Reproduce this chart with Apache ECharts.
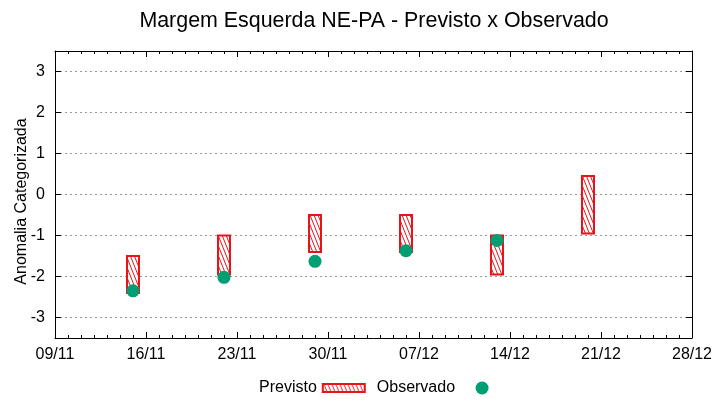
<!DOCTYPE html>
<html>
<head>
<meta charset="utf-8">
<script src="https://cdn.jsdelivr.net/npm/echarts@6/dist/echarts.min.js"></script>
<style>html,body{margin:0;padding:0;background:#fff;}#c{width:720px;height:400px;}</style>
</head>
<body>
<div id="c"></div>
<script>
const startDate = '2023-11-09';
const endDate = '2023-12-28';
const forecastDates = ['2023-11-15','2023-11-22','2023-11-29','2023-12-06','2023-12-13','2023-12-20'];
const forecastLow  = [-2.4, -1.95, -1.4, -1.4, -1.95, -0.95];
const forecastHigh = [-1.5, -1.0, -0.5, -0.5, -1.0, 0.45];
const observedDates = ['2023-11-15','2023-11-22','2023-11-29','2023-12-06','2023-12-13'];
const observedValues = [-2.35, -2.02, -1.63, -1.37, -1.12];
const yTicks = [-3, -2, -1, 0, 1, 2, 3];

const DAY = 86400000;
const t0 = Date.parse(startDate);
const dayOf = s => Math.round((Date.parse(s) - t0) / DAY);
const xMax = dayOf(endDate);
const fmtDay = v => {
  const d = new Date(t0 + v * DAY);
  const dd = String(d.getUTCDate()).padStart(2, '0');
  const mm = String(d.getUTCMonth() + 1).padStart(2, '0');
  return dd + '/' + mm;
};

const RED = '#e8141a';
const GREEN = '#009e73';
const FONT = 'Liberation Sans';

const pc = document.createElement('canvas');
pc.width = 4; pc.height = 10;
const g = pc.getContext('2d');
g.fillStyle = '#fff'; g.fillRect(0, 0, 4, 10);
g.strokeStyle = RED; g.lineWidth = 1;
for (const dx of [-4, 0, 4]) {
  g.beginPath(); g.moveTo(dx - 0.8, -2); g.lineTo(dx + 4.8, 12); g.stroke();
}
const hatch = { image: pc, repeat: 'repeat' };

const barData = forecastDates.map((d, i) => [dayOf(d), forecastLow[i], forecastHigh[i]]);
const obsData = observedDates.map((d, i) => [dayOf(d), observedValues[i]]);

const chart = echarts.init(document.getElementById('c'), null, { renderer: 'canvas' });
const yMin = -3.5, yMax = 3.5;

const baseX = {
  type: 'value', min: 0, max: xMax, interval: 7,
  axisLine: { show: true, onZero: false, lineStyle: { color: '#000', width: 1 } },
  axisTick: { show: true, inside: true, length: 6, lineStyle: { color: '#000' } },
  minorTick: { show: true, splitNumber: 7, length: 3, lineStyle: { color: '#000' } },
  splitLine: { show: false }
};
const baseY = {
  type: 'value', min: yMin, max: yMax, splitNumber: 7,
  axisLine: { show: true, onZero: false, lineStyle: { color: '#000', width: 1 } },
  axisTick: { show: true, inside: true, length: 6, lineStyle: { color: '#000' } }
};

chart.setOption({
  animation: false,
  backgroundColor: '#fff',
  title: {
    text: 'Margem Esquerda NE-PA - Previsto x Observado',
    left: 369, top: 6, textAlign: 'center',
    textStyle: { fontFamily: FONT, fontSize: 21.4, fontWeight: 'normal', color: '#000' }
  },
  grid: { left: 55, right: 28, top: 51, bottom: 62, show: false, containLabel: false, outerBoundsMode: 'none' },
  legend: {
    left: 254, top: 375, align: 'right', itemGap: 11, itemWidth: 42, itemHeight: 13, itemSymbolKeepAspect: true,
    textStyle: { fontFamily: FONT, fontSize: 16, color: '#000', padding: [0, 1, 0, 0] },
    data: [
      { name: 'Previsto', icon: 'path://M0,0H42V8H0Z', itemStyle: { color: hatch, borderColor: RED, borderWidth: 2 } },
      { name: 'Observado', icon: 'circle', itemStyle: { color: GREEN } }
    ]
  },
  xAxis: [
    Object.assign({}, baseX, {
      position: 'bottom',
      axisLabel: { show: true, formatter: fmtDay, margin: 9, fontFamily: FONT, fontSize: 16, color: '#000' }
    }),
    Object.assign({}, baseX, { position: 'top', axisLabel: { show: false } })
  ],
  yAxis: [
    Object.assign({}, baseY, {
      position: 'left',
      name: 'Anomalia Categorizada', nameLocation: 'middle', nameGap: 25, nameRotate: 90, nameMoveOverlap: false,
      nameTextStyle: { fontFamily: FONT, fontSize: 16, color: '#000', padding: [0, 14, 0, 0] },
      axisLabel: {
        show: true, margin: 10, fontFamily: FONT, fontSize: 16, color: '#000',
        showMinLabel: false, showMaxLabel: false,
        formatter: v => (yTicks.indexOf(v) >= 0 ? String(v) : '')
      },
      splitLine: { show: true, lineStyle: { color: '#9a9a9a', type: [2, 3], width: 1 } }
    }),
    Object.assign({}, baseY, { position: 'right', axisLabel: { show: false }, splitLine: { show: false } })
  ],
  series: [
    {
      name: 'Previsto', type: 'custom', xAxisIndex: 0, yAxisIndex: 0,
      itemStyle: { color: hatch, borderColor: RED, borderWidth: 2 },
      encode: { x: 0, y: [1, 2] },
      data: barData,
      renderItem: (params, api) => {
        const x = api.value(0);
        const pHi = api.coord([x, api.value(2)]);
        const pLo = api.coord([x, api.value(1)]);
        const w = 12;
        return {
          type: 'rect',
          shape: { x: pHi[0] - w / 2, y: pHi[1], width: w, height: pLo[1] - pHi[1] },
          style: { fill: hatch, stroke: RED, lineWidth: 2 }
        };
      }
    },
    {
      name: 'Observado', type: 'scatter', xAxisIndex: 0, yAxisIndex: 0,
      symbol: 'circle', symbolSize: 13,
      itemStyle: { color: GREEN, opacity: 1 },
      data: obsData, z: 3
    }
  ]
});
</script>
</body>
</html>
